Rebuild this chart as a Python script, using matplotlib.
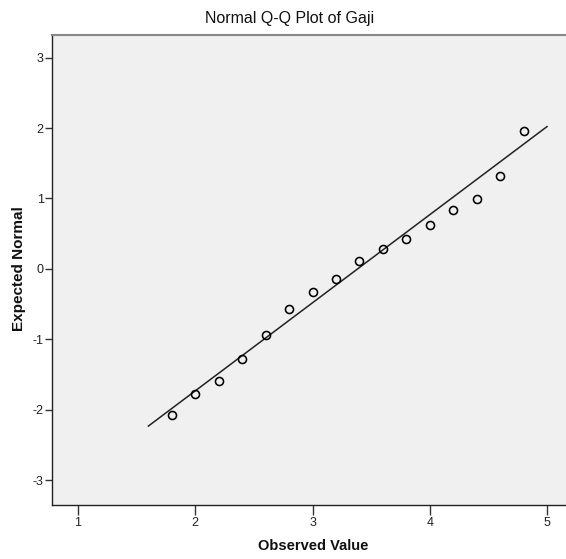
import numpy as np
import matplotlib
matplotlib.use("Agg")
import matplotlib.pyplot as plt

plt.rcParams['font.family'] = ['Liberation Sans', 'DejaVu Sans']
plt.rcParams['axes.unicode_minus'] = False

# observed values and their expected normal scores
observed = [1.8, 2.0, 2.2, 2.4, 2.6, 2.8, 3.0, 3.2, 3.4, 3.6, 3.8, 4.0, 4.2, 4.4, 4.6, 4.8]
expected = [-2.07, -1.78, -1.59, -1.28, -0.94, -0.57, -0.33, -0.14,
            0.11, 0.29, 0.43, 0.63, 0.83, 0.99, 1.32, 1.96]

# reference line: normal with this mean / sd
line_mean = 3.384
line_sd = 0.80
line_x = [1.6, 5.0]

x_ticks = [1, 2, 3, 4, 5]
y_ticks = [-3, -2, -1, 0, 1, 2, 3]

W, H = 566, 559
fig = plt.figure(figsize=(W / 100, H / 100), dpi=100)
ax = fig.add_axes([52 / W, 1 - 505 / H, 1 - 52 / W, (505 - 35) / H])
ax.set_facecolor('#f0f0f0')

lx = np.array(line_x)
ax.plot(lx, (lx - line_mean) / line_sd, color='#222222', lw=1.1, zorder=2)
ax.plot(observed, expected, 'o', ms=5.8, mfc='none', mec='black', mew=1.15, zorder=3)

ax.set_xlim(0.778, 5.162)
ax.set_ylim(-3.35, 3.32)
ax.set_xticks(x_ticks)
ax.set_yticks(y_ticks)

ax.spines['right'].set_visible(False)
ax.spines['top'].set_color('#888888')
ax.spines['top'].set_linewidth(1.5)
for s in ['left', 'bottom']:
    ax.spines[s].set_color('#222222')
    ax.spines[s].set_linewidth(1.0)

ax.tick_params(axis='x', direction='out', length=7, width=1, color='#333333',
               labelsize=9, labelcolor='#222222', pad=2)
ax.tick_params(axis='y', direction='out', length=5, width=1, color='#333333',
               labelsize=9, labelcolor='#222222', pad=1)

fig.text(290 / W, 1 - 19 / H, "Normal Q-Q Plot of Gaji", fontsize=11.5,
         color='#111111', ha='center', va='center')
fig.text(313 / W, 1 - 546 / H, "Observed Value", fontsize=10.5, fontweight='bold',
         color='#111111', ha='center', va='center')
fig.text(19 / W, 1 - 269 / H, "Expected Normal", fontsize=11, fontweight='bold',
         color='#111111', ha='center', va='center', rotation=90)

fig.savefig("out.png", dpi=100, facecolor='white')
